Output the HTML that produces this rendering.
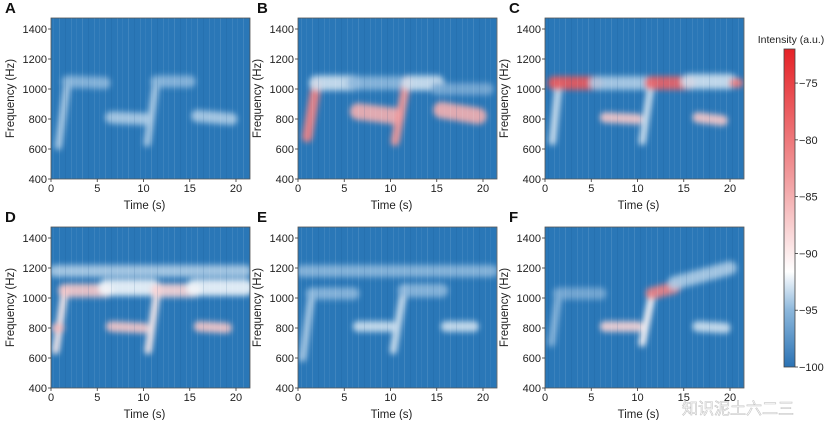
<!DOCTYPE html>
<html><head><meta charset="utf-8">
<style>
body{margin:0;background:#fff;width:827px;height:420px;overflow:hidden;font-family:"Liberation Sans",Arial,sans-serif}
svg text{font-family:"Liberation Sans",Arial,sans-serif}
</style></head>
<body>
<svg id="fig" width="827" height="420" viewBox="0 0 827 420" xmlns="http://www.w3.org/2000/svg">
<defs>
<filter id="blur" x="-20%" y="-50%" width="140%" height="200%"><feGaussianBlur stdDeviation="2.6 3"/></filter>
<pattern id="streaks" width="23" height="161" patternUnits="userSpaceOnUse">
<rect x="2" y="0" width="1" height="161" fill="#fff" opacity="0.08"/>
<rect x="7" y="0" width="1" height="161" fill="#fff" opacity="0.05"/>
<rect x="13" y="0" width="1" height="161" fill="#fff" opacity="0.10"/>
<rect x="19" y="0" width="1" height="161" fill="#0a3f7a" opacity="0.12"/>
</pattern>
<linearGradient id="cbar" x1="0" y1="1" x2="0" y2="0">
<stop offset="0" stop-color="#2a72b4"/>
<stop offset="0.18" stop-color="#8db8dc"/>
<stop offset="0.30" stop-color="#ffffff"/>
<stop offset="0.6" stop-color="#f19a9c"/>
<stop offset="1" stop-color="#e52227"/>
</linearGradient>
</defs>
</svg>
<script>
// data: segments [t0, f0, t1, f1, intensity dB, band width Hz]
const segA=[[0.8,620,1.8,1050,-94,50],[1.8,1050,5.8,1040,-95,80],[6.5,810,10.2,800,-94,80],[10.4,640,11.4,1050,-94,50],[11.4,1050,15,1050,-95,80],[15.8,820,19.5,800,-94,80]];
const segB=[[1,680,2,1030,-81,70],[2,1040,6,1040,-93,100],[6,1040,11,1040,-95,90],[6.5,850,10.5,820,-85,110],[10.5,650,11.8,1060,-83,60],[12,1040,15,1040,-93,100],[15,1000,20.5,1000,-96,80],[15.5,860,19.5,820,-85,110]];
const segC=[[0.8,650,1.5,1040,-93,50],[1,1040,5.5,1040,-77,90],[5.5,1040,11,1040,-94,90],[6.5,810,10,800,-87,70],[10.5,650,11.5,1040,-93,50],[11.5,1040,15.5,1040,-78,90],[15.5,1050,20,1050,-93,100],[20.4,1040,21,1040,-80,60],[16.5,810,19.2,790,-87,70]];
const segD=[[0.5,1180,21,1180,-94,80],[0.5,650,1.5,1050,-90,50],[1.5,1050,6,1050,-87,90],[6,1070,11,1070,-92,110],[6.5,810,10,800,-87,70],[10.5,650,11.5,1050,-90,50],[11.5,1050,15.5,1050,-88,90],[15.5,1070,21,1070,-92,110],[16,810,19,800,-87,70],[0.5,800,1,800,-86,60]];
const segE=[[0.5,1180,21,1180,-95,80],[0.5,600,1.5,1030,-94,50],[1.5,1030,6,1030,-95,80],[6.5,810,10,810,-93,70],[10.3,650,11.5,1070,-93,50],[11.5,1050,15.5,1050,-95,90],[16,810,19,810,-93,70]];
const segF=[[0.7,700,1.5,1030,-95,50],[1.5,1030,6,1030,-96,80],[6.5,810,10,810,-88,70],[10.5,700,11.5,1000,-91,50],[11.5,1030,14,1070,-81,80],[14,1100,20,1200,-94,90],[16.5,810,19.5,800,-93,70]];
const xTicks=[0,5,10,15,20];
const yTicks=[400,600,800,1000,1200,1400];
const cbTicks=[-75,-80,-85,-90,-95,-100];
const panelLetters=["A","B","C","D","E","F"];
const panelSegs=[segA,segB,segC,segD,segE,segF];

const NS="http://www.w3.org/2000/svg";
const svg=document.getElementById("fig");
function mk(tag,attrs,parent){const e=document.createElementNS(NS,tag);for(const k in attrs)e.setAttribute(k,attrs[k]);(parent||svg).appendChild(e);return e;}
function lerp(a,b,t){return a+(b-a)*t;}
function cmap(v){
  let t=(v+100)/28; t=Math.max(0,Math.min(1,t));
  const s=[[0,[42,114,180]],[0.18,[141,184,220]],[0.30,[255,255,255]],[0.6,[241,154,156]],[1,[229,34,39]]];
  for(let i=0;i<s.length-1;i++){if(t<=s[i+1][0]){const u=(t-s[i][0])/(s[i+1][0]-s[i][0]);const c=s[i][1].map((x,j)=>Math.round(lerp(x,s[i+1][1][j],u)));return `rgb(${c})`;}}
  return "rgb(229,34,39)";
}
const W=199,H=161;
const origins=[[51,18],[298,18],[545,18],[51,227],[298,227],[545,227]];
const letterX=[5,257,509,5,257,509];
function sx(ox,t){return ox+t*(185/20);}
function sy(oy,f){return oy+H-(f-400)*(30/200);}

origins.forEach((o,i)=>{
  const [ox,oy]=o;
  const g=mk("g",{});
  
  
  const cp=mk("clipPath",{id:"cp"+i},g); mk("rect",{x:ox,y:oy,width:W,height:H},cp);
  const bg=mk("rect",{x:ox,y:oy,width:W,height:H,fill:"#2a77b7"},g);
  
  
  const marks=mk("g",{"clip-path":`url(#cp${i})`},g);
  const inner=mk("g",{filter:"url(#blur)"},marks);
  panelSegs[i].forEach(s=>{
    const ln=mk("line",{x1:sx(ox,s[0]),y1:sy(oy,s[1]),x2:sx(ox,s[2]),y2:sy(oy,s[3]),stroke:cmap(s[4]),"stroke-width":s[5]*0.15,"stroke-linecap":"round",opacity:0.9},inner);
    
    
  });
  mk("rect",{x:ox,y:oy,width:W,height:H,fill:"url(#streaks)"},g);
  mk("rect",{x:ox,y:oy,width:W,height:H,fill:"none",stroke:"#555","stroke-width":0.8},g);
  xTicks.forEach(t=>{
    const x=sx(ox,t);
    mk("line",{x1:x,y1:oy+H,x2:x,y2:oy+H+3,stroke:"#333","stroke-width":0.8},g);
    const tx=mk("text",{x:x,y:oy+H+13,"font-size":11,"text-anchor":"middle",fill:"#222"},g);tx.textContent=t;
    
    
  });
  yTicks.forEach(f=>{
    const y=sy(oy,f);
    mk("line",{x1:ox-3,y1:y,x2:ox,y2:y,stroke:"#333","stroke-width":0.8},g);
    const tx=mk("text",{x:ox-4,y:y+4,"font-size":11,"text-anchor":"end",fill:"#222"},g);tx.textContent=f;
    
    
  });
  const xl=mk("text",{x:ox+W/2-6,y:oy+H+30,"font-size":11.5,"text-anchor":"middle",fill:"#222"},g);xl.textContent="Time (s)";
  
  
  const yl=mk("text",{x:0,y:0,"font-size":11.5,"text-anchor":"middle",fill:"#222",transform:`translate(${ox-37},${oy+H/2}) rotate(-90)`},g);yl.textContent="Frequency (Hz)";
  
  
  const pl=mk("text",{x:letterX[i],y:oy-5,"font-size":15,"font-weight":"bold",fill:"#111"},g);pl.textContent=panelLetters[i];
  
  
});

// colorbar
const cb=mk("g",{});


const cbY0=49,cbY1=367,cbX=784,cbW=11;
mk("rect",{x:cbX,y:cbY0,width:cbW,height:cbY1-cbY0,fill:"url(#cbar)",stroke:"#444","stroke-width":0.8},cb);
function cby(v){return cbY1-(v+100)*((cbY1-cbY0)/28);}
cbTicks.forEach(v=>{
  const y=cby(v);
  mk("line",{x1:cbX+cbW,y1:y,x2:cbX+cbW+3,y2:y,stroke:"#333","stroke-width":0.8},cb);
  const tx=mk("text",{x:cbX+cbW+4,y:y+4,"font-size":11,fill:"#222"},cb);tx.textContent="\u2212"+Math.abs(v);
  
  
});
const ct=mk("text",{x:791,y:43,"font-size":10.5,"text-anchor":"middle",fill:"#222"},cb);ct.textContent="Intensity (a.u.)";


const wm=mk("text",{x:682,y:414,"font-size":16,fill:"#ffffff",stroke:"#bbb","stroke-width":0.6,opacity:0.85},svg);
wm.textContent="知识泥土六二三";
wm.setAttribute("font-family","'Liberation Sans','Noto Sans CJK SC',sans-serif");


</script>
</body></html>
